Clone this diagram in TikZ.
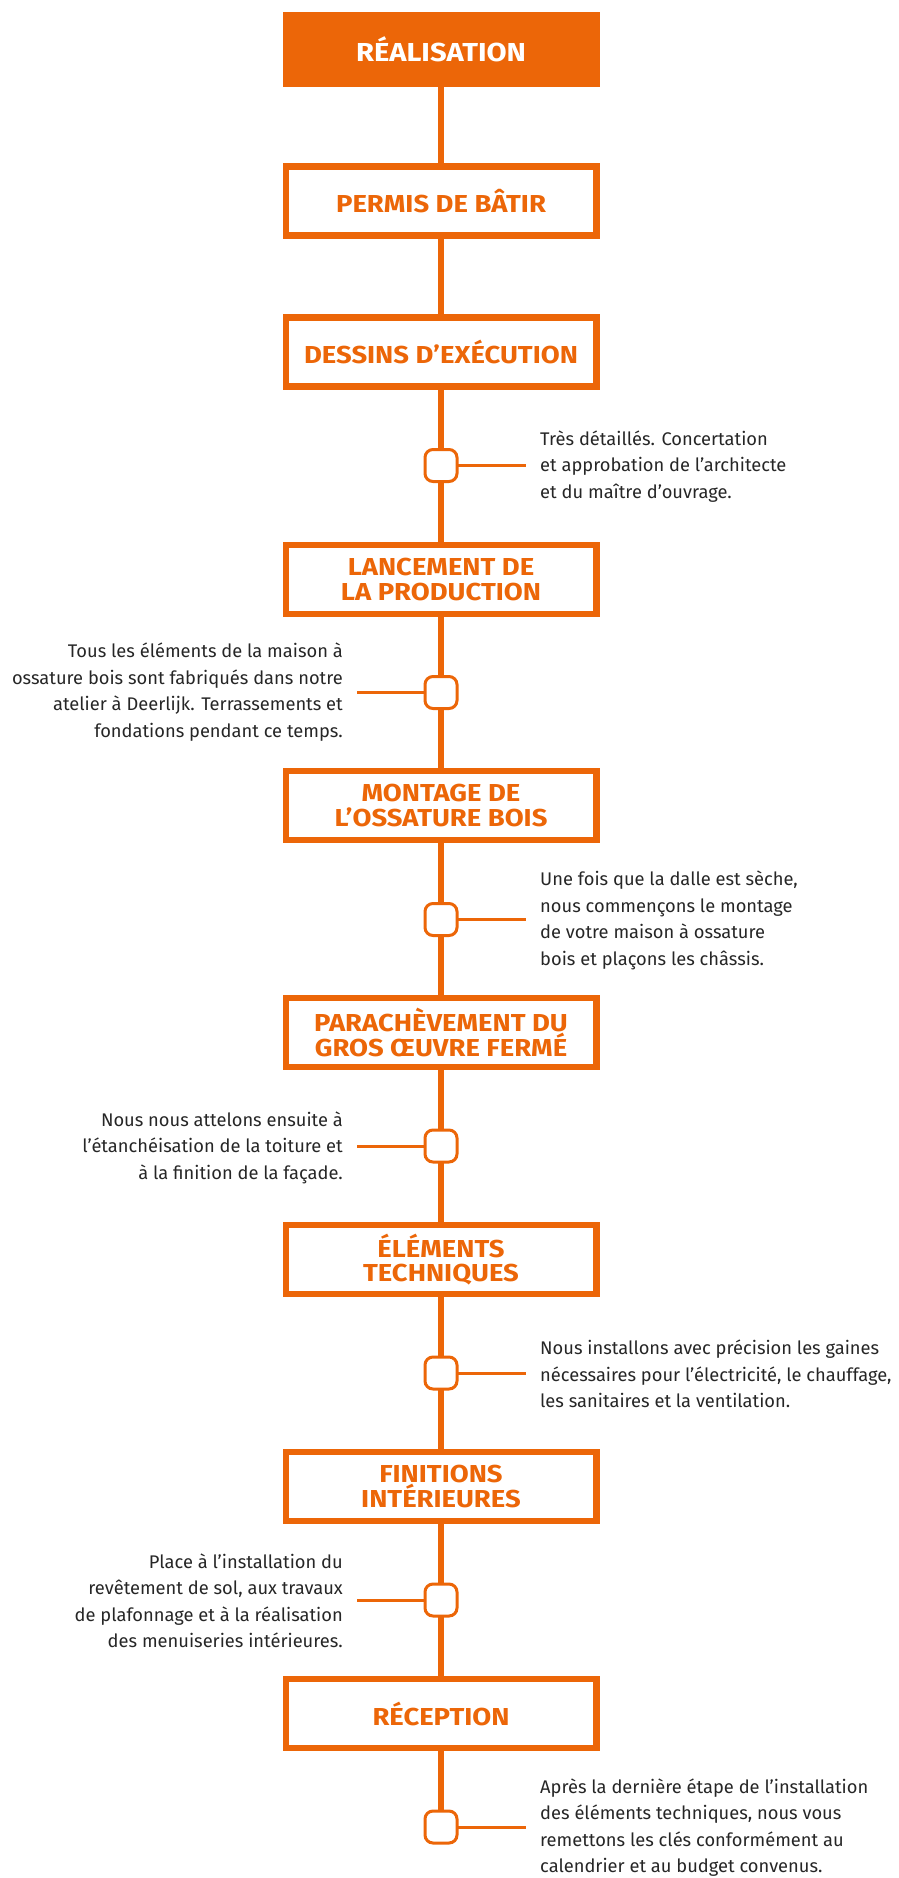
\documentclass[tikz,border=0pt]{standalone}
\usepackage{fontspec}
\setmainfont{Fira Sans}
\newfontfamily\headfont[FakeStretch=1.12]{Fira Sans}
\definecolor{brand}{HTML}{EC6608}
\definecolor{ink}{HTML}{262626}
\begin{document}
\begin{tikzpicture}[x=1pt,y=-1pt,
  headbox/.style={draw=brand,line width=6.5pt,fill=white,minimum width=310.5pt,minimum height=69pt,inner sep=0pt,outer sep=0pt,align=center,text=brand,font=\headfont\bfseries\fontsize{24.5}{24.5}\selectfont},
  titlebox/.style={fill=brand,minimum width=317pt,minimum height=75pt,inner sep=0pt,outer sep=0pt,text=white,font=\headfont\bfseries\fontsize{26}{26}\selectfont},
  marker/.style={draw=brand,line width=3pt,fill=white,rounded corners=8pt,minimum width=32pt,minimum height=32pt,inner sep=0pt,outer sep=0pt},
  spine/.style={draw=brand,line width=6.3pt},
  tick/.style={draw=brand,line width=3pt},
  rtext/.style={anchor=west,align=left,inner sep=0pt,text=ink,font=\fontsize{18.3}{26.5}\selectfont},
  ltext/.style={anchor=east,align=right,inner sep=0pt,text=ink,font=\fontsize{18.3}{26.5}\selectfont}]
\useasboundingbox (0,0) rectangle (898,1878);
% boxes
\node[titlebox] (b0) at (441,49.5) {RÉALISATION};
\node[headbox] (b1) at (441,201) {PERMIS DE BÂTIR};
\node[headbox] (b2) at (441,352) {DESSINS D’EXÉCUTION};
\node[headbox] (b3) at (441,579.5) {LANCEMENT DE\\LA PRODUCTION};
\node[headbox] (b4) at (441,805.5) {MONTAGE DE\\L’OSSATURE BOIS};
\node[headbox] (b5) at (441,1032.5) {PARACHÈVEMENT DU\\GROS ŒUVRE FERMÉ};
\node[headbox] (b6) at (441,1259.5) {ÉLÉMENTS\\TECHNIQUES};
\node[headbox] (b7) at (441,1486.5) {FINITIONS\\INTÉRIEURES};
\node[headbox] (b8) at (441,1713.5) {RÉCEPTION};
% markers
\node[marker] (m1) at (441,465.5) {};
\node[marker] (m2) at (441,692.5) {};
\node[marker] (m3) at (441,919.5) {};
\node[marker] (m4) at (441,1146) {};
\node[marker] (m5) at (441,1373) {};
\node[marker] (m6) at (441,1600) {};
\node[marker] (m7) at (441,1827) {};
% spine
\path[spine] (b0.south) -- (b1.north);
\path[spine] (b1.south) -- (b2.north);
\path[spine] (b2.south) -- (m1.north);
\path[spine] (m1.south) -- (b3.north);
\path[spine] (b3.south) -- (m2.north);
\path[spine] (m2.south) -- (b4.north);
\path[spine] (b4.south) -- (m3.north);
\path[spine] (m3.south) -- (b5.north);
\path[spine] (b5.south) -- (m4.north);
\path[spine] (m4.south) -- (b6.north);
\path[spine] (b6.south) -- (m5.north);
\path[spine] (m5.south) -- (b7.north);
\path[spine] (b7.south) -- (m6.north);
\path[spine] (m6.south) -- (b8.north);
\path[spine] (b8.south) -- (m7.north);
% text nodes
\node[rtext] (t1) at (540,466.5) {Très détaillés. Concertation\\et approbation de l’architecte\\et du maître d’ouvrage.};
\node[ltext] (t2) at (343,692) {Tous les éléments de la maison à\\ossature bois sont fabriqués dans notre\\atelier à Deerlijk. Terrassements et\\fondations pendant ce temps.};
\node[rtext] (t3) at (540,920.5) {Une fois que la dalle est sèche,\\nous commençons le montage\\de votre maison à ossature\\bois et plaçons les châssis.};
\node[ltext] (t4) at (343,1147.5) {Nous nous attelons ensuite à\\l’étanchéisation de la toiture et\\à la finition de la façade.};
\node[rtext] (t5) at (540,1374) {Nous installons avec précision les gaines\\nécessaires pour l’électricité, le chauffage,\\les sanitaires et la ventilation.};
\node[ltext] (t6) at (343,1601) {Place à l’installation du\\revêtement de sol, aux travaux\\de plafonnage et à la réalisation\\des menuiseries intérieures.};
\node[rtext] (t7) at (540,1827.5) {Après la dernière étape de l’installation\\des éléments techniques, nous vous\\remettons les clés conformément au\\calendrier et au budget convenus.};
% ticks
\coordinate (r1) at (526,465.5);
\coordinate (r3) at (526,919.5);
\coordinate (r5) at (526,1373);
\coordinate (r7) at (526,1827);
\coordinate (l2) at (357,692.5);
\coordinate (l4) at (357,1146);
\coordinate (l6) at (357,1600);
\path[tick] (m1.east) -- (r1);
\path[tick] (m3.east) -- (r3);
\path[tick] (m5.east) -- (r5);
\path[tick] (m7.east) -- (r7);
\path[tick] (m2.west) -- (l2);
\path[tick] (m4.west) -- (l4);
\path[tick] (m6.west) -- (l6);
\end{tikzpicture}
\end{document}
